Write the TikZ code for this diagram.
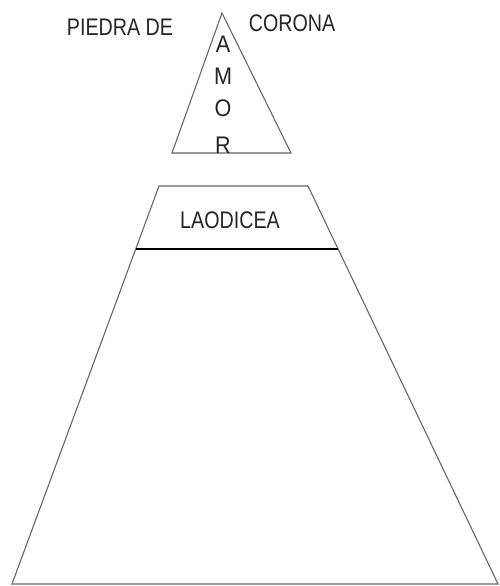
\documentclass[tikz,border=0pt]{standalone}
\usepackage{fontspec}
\setmainfont{Liberation Sans}

\begin{document}
\begin{tikzpicture}[
  x=1pt, y=-1pt,
  edge/.style={draw=black!60, line width=1.1pt, line join=miter},
  band/.style={draw=black, line width=1.1pt},
  word/.style={text=black!85, font=\fontsize{24}{24}\selectfont, inner sep=0pt, xscale=0.82},
  letter/.style={text=black!85, font=\fontsize{24}{24}\selectfont, inner sep=0pt, xscale=0.9}
]
\useasboundingbox (0,0) rectangle (499,586);

% Top triangle
\coordinate (apex) at (222,13);
\coordinate (tl) at (172,153);
\coordinate (tr) at (291,153);
\draw[edge] (apex) -- (tr) -- (tl) -- cycle;

% Lower trapezoid
\coordinate (ul) at (159,186);
\coordinate (ur) at (308,186);
\coordinate (bl) at (12,584);
\coordinate (br) at (498,584);
\draw[edge] (ul) -- (ur) -- (br) -- (bl) -- cycle;

% Band below the name
\coordinate (sl) at (136,249);
\coordinate (sr) at (338,249);
\draw[band] (sl) -- (sr);

% Labels
\node[word] (piedra) at (120,27) {PIEDRA DE};
\node[word] (corona) at (292,23) {CORONA};
\node[word] (laodicea) at (230,220) {LAODICEA};

\node[letter] (la) at (223,44) {A};
\node[letter] (lm) at (223,76) {M};
\node[letter] (lo) at (223,108) {O};
\node[letter] (lr) at (223,145) {R};

\end{tikzpicture}
\end{document}
